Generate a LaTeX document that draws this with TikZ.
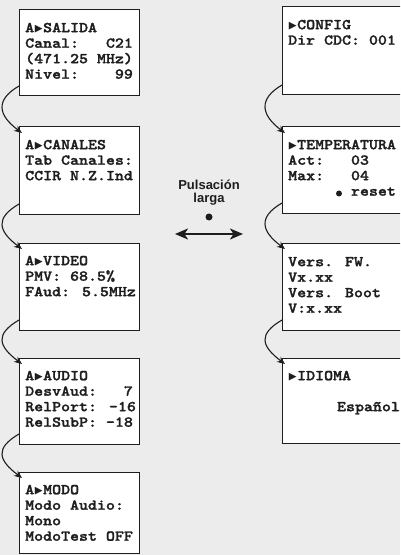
\documentclass[tikz,border=0pt]{standalone}
\usepackage{fontspec}
\usetikzlibrary{arrows.meta}
\newfontfamily\lcd{lmmonolt10-bold}[Extension=.otf, FakeStretch=1.14, FakeBold=1.6]
\newfontfamily\symf{DejaVu Sans Mono}
\newfontfamily\lab{Liberation Sans}
\definecolor{bg}{RGB}{235,236,235}
\definecolor{ink}{RGB}{30,30,30}
\newcommand\tri{\makebox[8.98bp][c]{\symf\fontsize{13bp}{13bp}\selectfont ▶}}
\newcommand\fl{\rule{0pt}{10bp}}
\begin{document}
\begin{tikzpicture}[x=1bp,y=-1bp,
  box/.style={draw=ink, line width=1bp, fill=white, anchor=north west, inner sep=0pt, outer sep=0pt},
  txt/.style={anchor=north west, inner sep=0pt, align=left, text=ink, font=\lcd\fontsize{15bp}{15.5bp}\selectfont},
  flow/.style={draw=ink, line width=1.1bp, -{Stealth[length=8bp,width=6.5bp]}},
  dot/.style={circle, fill=ink, inner sep=0pt, minimum size=6bp},
  lbl/.style={font=\lab\bfseries\fontsize{13bp}{13.5bp}\selectfont, align=center, anchor=north, text=ink, inner sep=0pt}]
\useasboundingbox (0,0) rectangle (400,555);
\clip (0,0) rectangle (400,555);
\fill[bg] (0,0) rectangle (400,555);
% left boxes
\node[box, minimum width=120bp, minimum height=86bp] (L1) at (19,10) {};
\node[box, minimum width=120bp, minimum height=87bp] (L2) at (19,127) {};
\node[box, minimum width=120bp, minimum height=87bp] (L3) at (19,243) {};
\node[box, minimum width=120bp, minimum height=86bp] (L4) at (19,358) {};
\node[box, minimum width=120bp, minimum height=81bp] (L5) at (19,472) {};
% right boxes
\node[box, minimum width=130bp, minimum height=88bp] (R1) at (282,7) {};
\node[box, minimum width=130bp, minimum height=86bp] (R2) at (282,127) {};
\node[box, minimum width=130bp, minimum height=87bp] (R3) at (282,243) {};
\node[box, minimum width=130bp, minimum height=85bp] (R4) at (282,358) {};
% left texts
\node[txt] (tL1) at (25,22) {\fl A\tri SALIDA\\Canal:~~~C21\\(471.25 MHz)\\Nivel:~~~~99};
\node[txt] (tL2) at (25,139) {\fl A\tri CANALES\\Tab Canales:\\CCIR N.Z.Ind};
\node[txt] (tL3) at (25,255) {\fl A\tri VIDEO\\PMV: 68.5\%\\FAud: 5.5MHz};
\node[txt] (tL4) at (25,370) {\fl A\tri AUDIO\\DesvAud:~~~7\\RelPort: –16\\RelSubP: –18};
\node[txt] (tL5) at (25,484) {\fl A\tri MODO\\Modo Audio:\\Mono\\ModoTest OFF};
% right texts
\node[txt] (tR1) at (288,19) {\fl\tri CONFIG\\Dir CDC: 001};
\node[txt] (tR2) at (288,139) {\fl\tri TEMPERATURA\\Act:~~~03\\Max:~~~04\\~~~~~~~reset};
\node[dot] (rdot) at (339,193.5) {};
\node[txt] (tR3) at (288,256) {\fl Vers. FW.\\Vx.xx\\Vers. Boot\\V:x.xx};
\node[txt] (tR4) at (288,370) {\fl\tri IDIOMA\\\mbox{}\\~~~~~\hspace{4bp}Español};
% flow arrows
\foreach \a/\b in {L1/L2,L2/L3,L3/L4,L4/L5,R1/R2,R2/R3,R3/R4}{
  \draw[flow] ([yshift=10bp]\a.south west) .. controls +(-24bp,-14bp) and +(-24bp,18bp) .. ([xshift=3bp,yshift=-6bp]\b.north west);
}
% middle
\node[lbl] (pl) at (209,179.5) {\rule{0pt}{9.5bp}Pulsación\\larga};
\node[dot, minimum size=7bp] (pdot) at (209,217) {};
\coordinate (aL) at (175,234);
\coordinate (aR) at (243,234);
\draw[line width=2bp, draw=ink, {Stealth[length=13bp,width=11bp,inset=3.5bp]}-{Stealth[length=13bp,width=11bp,inset=3.5bp]}] (aL) -- (aR);
\end{tikzpicture}
\end{document}
